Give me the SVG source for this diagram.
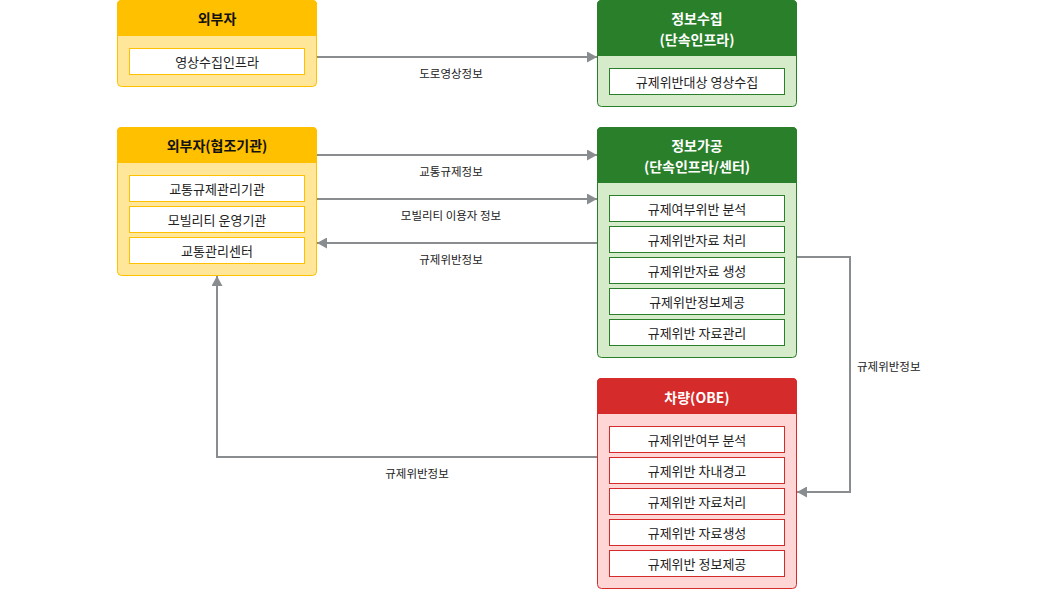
<svg xmlns="http://www.w3.org/2000/svg" width="1040" height="589" viewBox="0 0 1040 589">
<style>
text{font-family:"Noto Sans CJK KR","Noto Sans",sans-serif;dominant-baseline:central;text-anchor:middle}
.hd{font-size:14px;font-weight:bold}
.it{font-size:13px;fill:#222}
.lb{font-size:11.5px;fill:#222}
.yb{fill:#FFE699;stroke:#FFC000;stroke-width:1}
.yh{fill:#FFC000}
.yi{fill:#fff;stroke:#FFC000;stroke-width:1}
.gb{fill:#D5EBC9;stroke:#2A7F2A;stroke-width:1}
.gh{fill:#2A7F2A}
.gi{fill:#fff;stroke:#2A7F2A;stroke-width:1}
.rb{fill:#FFD6D6;stroke:#D62B2B;stroke-width:1}
.rh{fill:#D62B2B}
.ri{fill:#fff;stroke:#D62B2B;stroke-width:1}
.w{fill:#fff}
.k{fill:#111}
.cn{fill:none;stroke:#8A8D90;stroke-width:2}
</style>
<defs>
<marker id="ah" viewBox="0 0 10 11" refX="10" refY="5.5" markerWidth="5" markerHeight="5.5" orient="auto" markerUnits="strokeWidth">
<path d="M0,0 L10,5.5 L0,11 z" fill="#8A8D90"/>
</marker>
</defs>

<g id="connectors">
<path class="cn" d="M316,57 H597" marker-end="url(#ah)"/>
<path class="cn" d="M316,155 H597" marker-end="url(#ah)"/>
<path class="cn" d="M316,199 H597" marker-end="url(#ah)"/>
<path class="cn" d="M597,243 H317" marker-end="url(#ah)"/>
<path class="cn" d="M796,257 H850 V492 H797" marker-end="url(#ah)"/>
<path class="cn" d="M597,457 H217 V276" marker-end="url(#ah)"/>
<text class="lb" x="451" y="73">도로영상정보</text>
<text class="lb" x="451" y="171">교통규제정보</text>
<text class="lb" x="451" y="215">모빌리티 이용자 정보</text>
<text class="lb" x="451" y="259">규제위반정보</text>
<text class="lb" x="857" y="366" style="text-anchor:start">규제위반정보</text>
<text class="lb" x="417" y="473">규제위반정보</text>
</g>

<g id="node-outsider">
<rect class="yb" x="117.5" y="0.5" width="199" height="86" rx="4"/>
<path class="yh" d="M117,4.5 Q117,0 121.5,0 H312.5 Q317,0 317,4.5 V36 H117 z"/>
<text class="hd k" x="217" y="18">외부자</text>
<rect class="yi" x="129.5" y="48.5" width="175" height="26"/>
<text class="it" x="217" y="61.5">영상수집인프라</text>
</g>

<g id="node-collect">
<rect class="gb" x="597.5" y="0.5" width="199" height="106" rx="4"/>
<path class="gh" d="M597,4.5 Q597,0 601.5,0 H792.5 Q797,0 797,4.5 V56 H597 z"/>
<text class="hd w" x="697" y="18">정보수집</text>
<text class="hd w" x="697" y="39">(단속인프라)</text>
<rect class="gi" x="609.5" y="68.5" width="175" height="26"/>
<text class="it" x="697" y="81.5">규제위반대상 영상수집</text>
</g>

<g id="node-partners">
<rect class="yb" x="117.5" y="127.5" width="199" height="148" rx="4"/>
<path class="yh" d="M117,131.5 Q117,127 121.5,127 H312.5 Q317,127 317,131.5 V163 H117 z"/>
<text class="hd k" x="217" y="145">외부자(협조기관)</text>
<rect class="yi" x="129.5" y="175.5" width="175" height="26"/>
<text class="it" x="217" y="188.5">교통규제관리기관</text>
<rect class="yi" x="129.5" y="206.5" width="175" height="26"/>
<text class="it" x="217" y="219.5">모빌리티 운영기관</text>
<rect class="yi" x="129.5" y="237.5" width="175" height="26"/>
<text class="it" x="217" y="250.5">교통관리센터</text>
</g>

<g id="node-process">
<rect class="gb" x="597.5" y="127.5" width="199" height="230" rx="4"/>
<path class="gh" d="M597,131.5 Q597,127 601.5,127 H792.5 Q797,127 797,131.5 V183 H597 z"/>
<text class="hd w" x="697" y="145">정보가공</text>
<text class="hd w" x="697" y="166">(단속인프라/센터)</text>
<rect class="gi" x="609.5" y="195.5" width="175" height="26"/>
<text class="it" x="697" y="208.5">규제여부위반 분석</text>
<rect class="gi" x="609.5" y="226.5" width="175" height="26"/>
<text class="it" x="697" y="239.5">규제위반자료 처리</text>
<rect class="gi" x="609.5" y="257.5" width="175" height="26"/>
<text class="it" x="697" y="270.5">규제위반자료 생성</text>
<rect class="gi" x="609.5" y="288.5" width="175" height="26"/>
<text class="it" x="697" y="301.5">규제위반정보제공</text>
<rect class="gi" x="609.5" y="319.5" width="175" height="26"/>
<text class="it" x="697" y="332.5">규제위반 자료관리</text>
</g>

<g id="node-vehicle">
<rect class="rb" x="597.5" y="378.5" width="199" height="210" rx="4"/>
<path class="rh" d="M597,382.5 Q597,378 601.5,378 H792.5 Q797,378 797,382.5 V414 H597 z"/>
<text class="hd w" x="697" y="396.5">차량(OBE)</text>
<rect class="ri" x="609.5" y="426.5" width="175" height="26"/>
<text class="it" x="697" y="439.5">규제위반여부 분석</text>
<rect class="ri" x="609.5" y="457.5" width="175" height="26"/>
<text class="it" x="697" y="470.5">규제위반 차내경고</text>
<rect class="ri" x="609.5" y="488.5" width="175" height="26"/>
<text class="it" x="697" y="501.5">규제위반 자료처리</text>
<rect class="ri" x="609.5" y="519.5" width="175" height="26"/>
<text class="it" x="697" y="532.5">규제위반 자료생성</text>
<rect class="ri" x="609.5" y="550.5" width="175" height="26"/>
<text class="it" x="697" y="563.5">규제위반 정보제공</text>
</g>
</svg>
